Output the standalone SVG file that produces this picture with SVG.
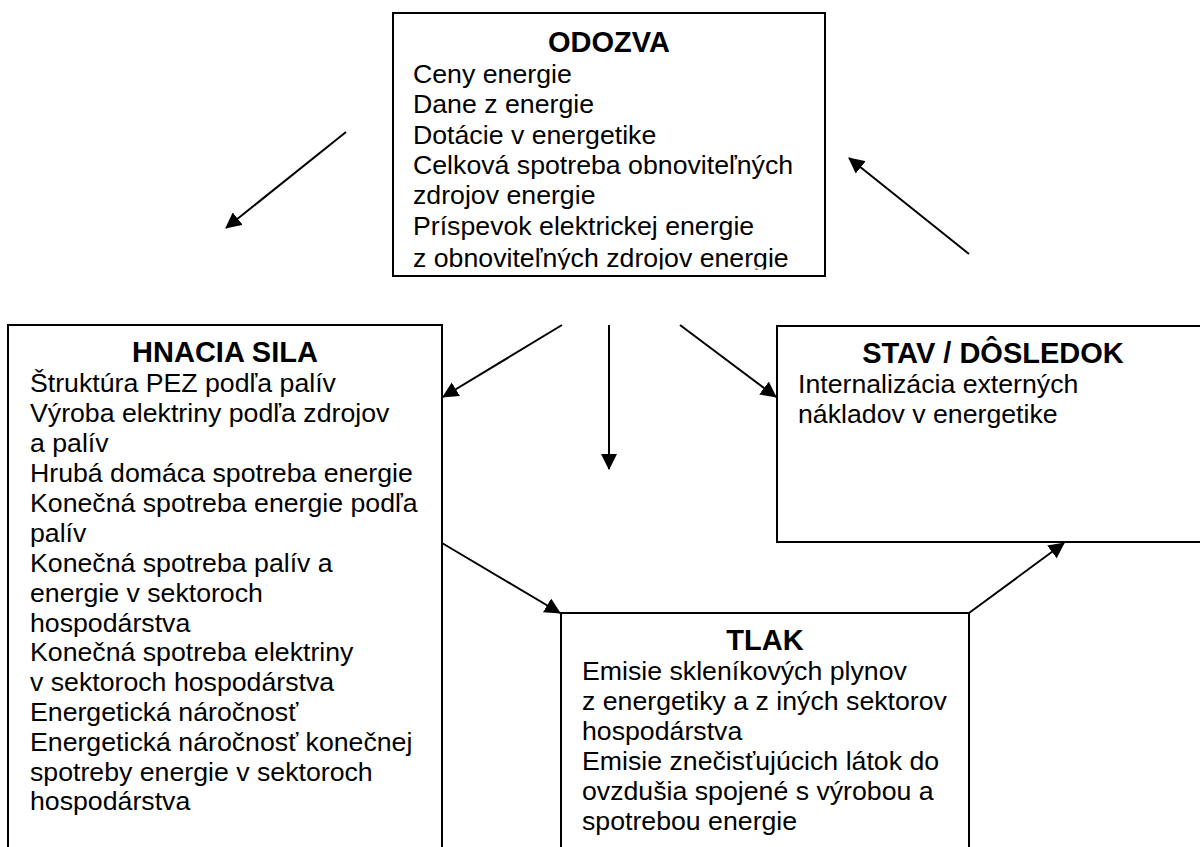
<svg xmlns="http://www.w3.org/2000/svg" width="1200" height="847" viewBox="0 0 1200 847">
<style>
.box{fill:#fff;stroke:#000;stroke-width:2}
.t{font-family:"Liberation Sans",Arial,sans-serif;font-size:26.7px;fill:#000}
.h{font-family:"Liberation Sans",Arial,sans-serif;font-size:29px;font-weight:bold;fill:#000;text-anchor:middle}
.c{stroke:#000;stroke-width:2;fill:none;marker-end:url(#ah)}
</style>
<defs>
<marker id="ah" markerUnits="userSpaceOnUse" markerWidth="16" markerHeight="16" refX="15" refY="8" orient="auto">
<path d="M0,0 L16,8 L0,16 z" fill="#000"/>
</marker>
<clipPath id="clipTop"><rect x="394" y="14" width="430" height="255.5"/></clipPath>
</defs>
<rect width="1200" height="847" fill="#fff"/>
<g id="connectors">
<line class="c" x1="346" y1="132" x2="226" y2="228"/>
<line class="c" x1="969" y1="254" x2="849" y2="158"/>
<line class="c" x1="562" y1="325" x2="443" y2="397"/>
<line class="c" x1="609" y1="325" x2="609" y2="469"/>
<line class="c" x1="680" y1="325" x2="776" y2="397"/>
<line class="c" x1="442" y1="543" x2="560" y2="613"/>
<line class="c" x1="969" y1="613" x2="1064" y2="543"/>
</g>
<g id="odozva">
<rect class="box" x="393" y="13" width="432" height="263"/>
<text class="h" x="609" y="52">ODOZVA</text>
<g clip-path="url(#clipTop)">
<text class="t" x="413" y="83">Ceny energie</text>
<text class="t" x="413" y="113.3">Dane z energie</text>
<text class="t" x="413" y="143.6">Dotácie v energetike</text>
<text class="t" x="413" y="173.9">Celková spotreba obnoviteľných</text>
<text class="t" x="413" y="204.2">zdrojov energie</text>
<text class="t" x="413" y="234.5">Príspevok elektrickej energie</text>
<text class="t" x="413" y="266.5">z obnoviteľných zdrojov energie</text>
</g>
</g>
<g id="hnacia-sila">
<rect class="box" x="8" y="325" width="434" height="540"/>
<text class="h" x="225" y="362">HNACIA SILA</text>
<text class="t" x="30" y="392">Štruktúra PEZ podľa palív</text>
<text class="t" x="30" y="422">Výroba elektriny podľa zdrojov</text>
<text class="t" x="30" y="452">a palív</text>
<text class="t" x="30" y="482">Hrubá domáca spotreba energie</text>
<text class="t" x="30" y="512">Konečná spotreba energie podľa</text>
<text class="t" x="30" y="542">palív</text>
<text class="t" x="30" y="572">Konečná spotreba palív a</text>
<text class="t" x="30" y="601.5">energie v sektoroch</text>
<text class="t" x="30" y="631.5">hospodárstva</text>
<text class="t" x="30" y="661">Konečná spotreba elektriny</text>
<text class="t" x="30" y="691">v sektoroch hospodárstva</text>
<text class="t" x="30" y="721">Energetická náročnosť</text>
<text class="t" x="30" y="750.5">Energetická náročnosť konečnej</text>
<text class="t" x="30" y="780.5">spotreby energie v sektoroch</text>
<text class="t" x="30" y="810">hospodárstva</text>
</g>
<g id="stav-dosledok">
<rect class="box" x="777" y="326" width="432" height="216"/>
<text class="h" x="993" y="363">STAV / DÔSLEDOK</text>
<text class="t" x="798" y="393">Internalizácia externých</text>
<text class="t" x="798" y="423">nákladov v energetike</text>
</g>
<g id="tlak">
<rect class="box" x="561" y="613" width="408" height="260"/>
<text class="h" x="765" y="650">TLAK</text>
<text class="t" x="582" y="680">Emisie skleníkových plynov</text>
<text class="t" x="582" y="710">z energetiky a z iných sektorov</text>
<text class="t" x="582" y="740">hospodárstva</text>
<text class="t" x="582" y="770">Emisie znečisťujúcich látok do</text>
<text class="t" x="582" y="800">ovzdušia spojené s výrobou a</text>
<text class="t" x="582" y="830">spotrebou energie</text>
</g>
</svg>
